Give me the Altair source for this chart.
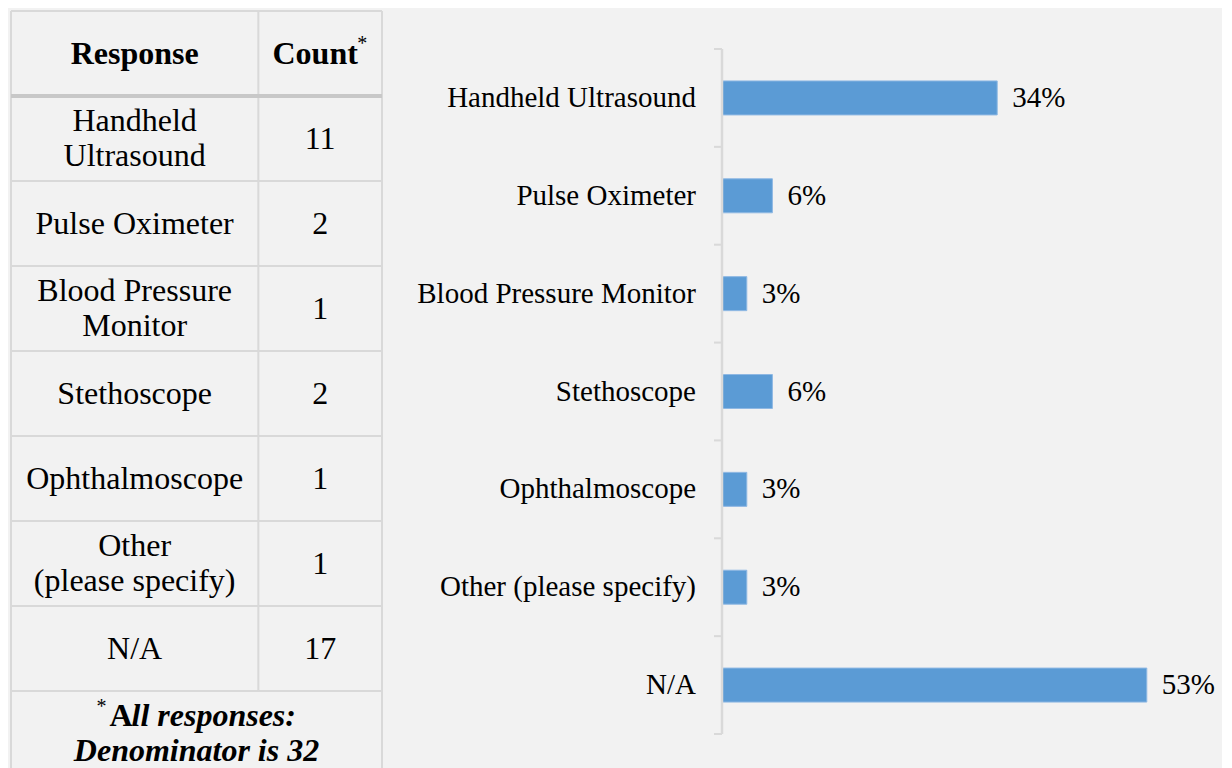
import altair as alt
import pandas as pd

FONT = "Liberation Serif"

# ---- data ----
table_responses = ["Handheld\nUltrasound", "Pulse Oximeter", "Blood Pressure\nMonitor",
                   "Stethoscope", "Ophthalmoscope", "Other\n(please specify)", "N/A"]
counts = [11, 2, 1, 2, 1, 1, 17]
header_labels = ["Response", "Count"]
footnote_parts = ["A", "ll responses:", "Denominator is 32"]

bar_labels = ["Handheld Ultrasound", "Pulse Oximeter", "Blood Pressure Monitor",
              "Stethoscope", "Ophthalmoscope", "Other (please specify)", "N/A"]
percents = [34.4, 6.3, 3.1, 6.3, 3.1, 3.1, 53.1]
pct_text = ["34%", "6%", "3%", "6%", "3%", "3%", "53%"]

LIGHT = "#d9d9d9"
HEAD = "#c8c8c8"
BG = "#f2f2f2"
LH = 35
H = 760

# ---- table (column / row units) ----
col_centers = [1.0, 2.5]
n_rows = len(table_responses)
row_bounds = list(range(0, n_rows + 2))
table_bottom = H / 85

tx = alt.Scale(domain=[0, 3], nice=False, zero=False)
ty = alt.Scale(domain=[0, table_bottom], nice=False, zero=False, reverse=True)

cells = pd.DataFrame({
    "row": [i + 1.5 for i in range(n_rows)],
    "response": table_responses,
    "count": [str(c) for c in counts],
    "nlines": [t.count("\n") + 1 for t in table_responses],
})

hl = pd.DataFrame({"y": [b for b in row_bounds if b != 1], "x": 0, "x2": 3})
hl_head = pd.DataFrame({"y": [1], "x": [0], "x2": [3]})
vl = pd.DataFrame({"x": [0, 2, 3], "y": [0, 0, 0],
                   "y2": [table_bottom, n_rows + 1, table_bottom]})

X = lambda f: alt.X(f, scale=tx, axis=None)
Y = lambda f: alt.Y(f, scale=ty, axis=None)

h_rules = alt.Chart(hl).mark_rule(color=LIGHT, strokeWidth=2).encode(
    x=X("x:Q"), x2="x2:Q", y=Y("y:Q"))
h_head = alt.Chart(hl_head).mark_rule(color=HEAD, strokeWidth=4).encode(
    x=X("x:Q"), x2="x2:Q", y=Y("y:Q"))
v_rules = alt.Chart(vl).mark_rule(color=LIGHT, strokeWidth=2).encode(
    x=X("x:Q"), y=Y("y:Q"), y2="y2:Q")

txt_kw = dict(font=FONT, fontSize=32, color="#000", baseline="middle",
              lineBreak="\n", lineHeight=LH)

one_line = alt.Chart(cells).transform_filter("datum.nlines == 1")
two_line = alt.Chart(cells).transform_filter("datum.nlines == 2")

resp1 = one_line.mark_text(align="center", **txt_kw).encode(
    x=X("rx:Q"), y=Y("row:Q"), text="response:N"
).transform_calculate(rx=str(col_centers[0]))
resp2 = two_line.mark_text(align="center", dy=-LH / 2, **txt_kw).encode(
    x=X("rx:Q"), y=Y("row:Q"), text="response:N"
).transform_calculate(rx=str(col_centers[0]))
cnt_txt = alt.Chart(cells).mark_text(align="center", **txt_kw).encode(
    x=X("cx:Q"), y=Y("row:Q"), text="count:N"
).transform_calculate(cx=str(col_centers[1]))

hdr = pd.DataFrame({"x": col_centers, "y": [0.5, 0.5], "t": header_labels})
hdr_resp = alt.Chart(hdr.iloc[[0]]).mark_text(
    align="center", fontWeight="bold", **txt_kw).encode(
    x=X("x:Q"), y=Y("y:Q"), text="t:N")
hdr_cnt = alt.Chart(hdr.iloc[[1]]).mark_text(
    align="center", fontWeight="bold", dx=-5, **txt_kw).encode(
    x=X("x:Q"), y=Y("y:Q"), text="t:N")
hdr_star = alt.Chart(hdr.iloc[[1]]).mark_text(
    font=FONT, fontSize=20, color="#000", baseline="middle", align="center",
    dx=42, dy=-10).encode(x=X("x:Q"), y=Y("y:Q"), text=alt.value("*"))

foot = pd.DataFrame({"x": [1.5, 1.5, 1.5],
                     "y": [n_rows + 1 + 0.29, n_rows + 1 + 0.29, n_rows + 1 + 0.71],
                     "t": footnote_parts})
foot_a = alt.Chart(foot.iloc[[0]]).mark_text(
    align="left", fontWeight="bold", dx=-87, **txt_kw).encode(
    x=X("x:Q"), y=Y("y:Q"), text="t:N")
foot_b = alt.Chart(foot.iloc[[1]]).mark_text(
    align="left", fontWeight="bold", fontStyle="italic", dx=-65, **txt_kw).encode(
    x=X("x:Q"), y=Y("y:Q"), text="t:N")
foot2 = alt.Chart(foot.iloc[[2]]).mark_text(
    align="center", fontWeight="bold", fontStyle="italic", **txt_kw).encode(
    x=X("x:Q"), y=Y("y:Q"), text="t:N")
foot_star = alt.Chart(foot.iloc[[0]]).mark_text(
    font=FONT, fontSize=20, color="#000", baseline="middle", align="center",
    dx=-95, dy=-9).encode(x=X("x:Q"), y=Y("y:Q"), text=alt.value("*"))

table = alt.layer(h_rules, v_rules, h_head, resp1, resp2, cnt_txt, hdr_resp, hdr_cnt,
                  hdr_star, foot_a, foot_b, foot2, foot_star).properties(width=371, height=H)

# ---- bar chart (category index units on y, percent on x) ----
n_cat = len(bar_labels)
step = 685 / n_cat
by = alt.Scale(domain=[-38 / step, n_cat + (H - 38 - 685) / step], nice=False,
               zero=False, reverse=True)
bx = alt.Scale(domain=[-38.25, 62.5], nice=False, zero=False)
BX = lambda f: alt.X(f, scale=bx, axis=None)
BY = lambda f: alt.Y(f, scale=by, axis=None)

bar_df = pd.DataFrame({"label": bar_labels, "pct": percents, "text": pct_text,
                       "idx": list(range(n_cat))})
half = 0.5 * 34 / step

bars = alt.Chart(bar_df).transform_calculate(
    y0=f"datum.idx + 0.5 - {half}", y1=f"datum.idx + 0.5 + {half}", zero="0"
).mark_bar(color="#5b9bd5", stroke="#8fb8e3", strokeWidth=1).encode(
    x=BX("zero:Q"), x2="pct:Q", y=BY("y0:Q"), y2="y1:Q")

pct_labels = alt.Chart(bar_df).transform_calculate(yc="datum.idx + 0.5").mark_text(
    align="left", baseline="middle", dx=15, font=FONT, fontSize=29, color="#000"
).encode(x=BX("pct:Q"), y=BY("yc:Q"), text="text:N")

cat_labels = alt.Chart(bar_df).transform_calculate(
    yc="datum.idx + 0.5", zero="0").mark_text(
    align="right", baseline="middle", dx=-26, font=FONT, fontSize=29, color="#000"
).encode(x=BX("zero:Q"), y=BY("yc:Q"), text="label:N")

bounds_df = pd.DataFrame({"b": list(range(n_cat + 1))})
ticks = alt.Chart(bounds_df).transform_calculate(t0="-1", t1="0").mark_rule(
    color=LIGHT, strokeWidth=2).encode(x=BX("t0:Q"), x2="t1:Q", y=BY("b:Q"))
domain_line = alt.Chart(pd.DataFrame({"y0": [0], "y1": [n_cat]})).transform_calculate(
    zero="0").mark_rule(color=LIGHT, strokeWidth=2.5).encode(
    x=BX("zero:Q"), y=BY("y0:Q"), y2="y1:Q")

bar_chart = alt.layer(bars, ticks, domain_line, pct_labels, cat_labels).properties(
    width=806, height=H)

chart = alt.hconcat(table, bar_chart, spacing=34, bounds="flush").configure(
    background=BG,
    padding={"left": 1, "top": 2, "right": 0, "bottom": 0},
).configure_view(strokeWidth=0)

chart.save("out.html", embed_options={"renderer": "svg", "actions": False})
